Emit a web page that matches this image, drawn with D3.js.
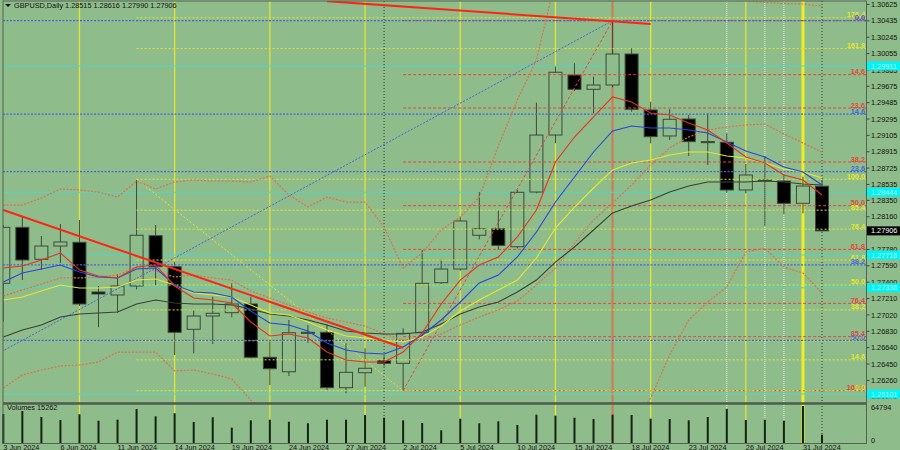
<!DOCTYPE html>
<html><head><meta charset="utf-8">
<script src="https://cdn.jsdelivr.net/npm/d3@7"></script>
<style>body{margin:0;background:#8fbc8b}svg{display:block}text{font-family:"Liberation Sans",Arial,sans-serif}</style>
</head><body>
<svg id="c" width="900" height="450"></svg>
<script>
// ---------------- DATA ----------------
const dateLabels = ["3 Jun 2024","6 Jun 2024","11 Jun 2024","14 Jun 2024","19 Jun 2024","24 Jun 2024","27 Jun 2024","2 Jul 2024","5 Jul 2024","10 Jul 2024","15 Jul 2024","18 Jul 2024","23 Jul 2024","26 Jul 2024","31 Jul 2024"];
const dateLabelIdx = [0,3,6,9,12,15,18,21,24,27,30,33,36,39,42];

const open  = [1.27387,1.28037,1.27666,1.27820,1.27863,1.27286,1.27251,1.27356,1.27940,1.27580,1.26853,1.27007,1.27046,1.27147,1.26528,1.26360,1.26818,1.26818,1.26175,1.26349,1.26488,1.26458,1.26813,1.27394,1.27553,1.27945,1.28021,1.27812,1.28447,1.29109,1.29806,1.29640,1.29690,1.30050,1.29400,1.29098,1.29295,1.29032,1.29025,1.28471,1.28579,1.28575,1.28316,1.28515];
const high  = [1.28064,1.28161,1.27936,1.28076,1.28122,1.27356,1.27495,1.28587,1.28064,1.27638,1.27077,1.27231,1.27387,1.27231,1.26729,1.26961,1.26903,1.26911,1.26690,1.26632,1.26540,1.26864,1.27774,1.27666,1.28161,1.28447,1.28238,1.28471,1.29485,1.29903,1.29942,1.29787,1.30437,1.30116,1.29496,1.29408,1.29342,1.29361,1.29129,1.28773,1.28866,1.28657,1.28625,1.28616];
const low   = [1.26941,1.27425,1.27542,1.27619,1.27123,1.26876,1.27046,1.27317,1.27367,1.26554,1.26574,1.26682,1.26992,1.26516,1.26206,1.26310,1.26697,1.26148,1.26110,1.26186,1.26420,1.26140,1.26767,1.27380,1.27533,1.27898,1.27774,1.27794,1.28432,1.29013,1.29620,1.29361,1.29663,1.29380,1.29013,1.29051,1.28866,1.28761,1.28440,1.28432,1.28053,1.28192,1.28200,1.27990];
const close = [1.28037,1.27658,1.27820,1.27867,1.27147,1.27263,1.27356,1.27945,1.27580,1.26818,1.27007,1.27039,1.27147,1.26528,1.26395,1.26813,1.26813,1.26175,1.26353,1.26400,1.26458,1.26806,1.27387,1.27553,1.28111,1.28021,1.27828,1.28444,1.29109,1.29838,1.29640,1.29690,1.30050,1.29408,1.29090,1.29292,1.29032,1.29025,1.28471,1.28645,1.28587,1.28316,1.28517,1.27996];
const volume = [50970,56155,45788,40604,50453,39395,41123,59610,46997,52181,37148,45269,27300,40086,41123,37666,34902,41123,41123,49243,44578,40086,35421,22807,42851,34902,38358,31965,49762,48034,44578,42332,49762,49243,42851,42332,40086,45788,59610,40604,41123,39395,64794,15262];

const maRed    = [1.27565,1.27588,1.27658,1.27739,1.27542,1.27472,1.27449,1.27576,1.27600,1.27356,1.27216,1.27193,1.27158,1.26938,1.26775,1.26798,1.26752,1.26589,1.26496,1.26473,1.26473,1.26589,1.26810,1.27147,1.27425,1.27600,1.27693,1.27925,1.28238,1.28796,1.29086,1.29319,1.29551,1.29493,1.29365,1.29342,1.29249,1.29168,1.29017,1.28854,1.28784,1.28645,1.28587,1.28413];
const maBlue   = [1.27402,1.27507,1.27553,1.27600,1.27518,1.27460,1.27449,1.27553,1.27565,1.27367,1.27286,1.27274,1.27228,1.27065,1.26926,1.26903,1.26833,1.26694,1.26612,1.26578,1.26566,1.26647,1.26787,1.26961,1.27170,1.27391,1.27483,1.27693,1.27983,1.28331,1.28622,1.28912,1.29156,1.29214,1.29191,1.29191,1.29168,1.29133,1.29028,1.28924,1.28854,1.28738,1.28680,1.28529];
const maYellow = [1.27193,1.27228,1.27298,1.27367,1.27333,1.27333,1.27344,1.27425,1.27437,1.27367,1.27274,1.27251,1.27228,1.27135,1.27042,1.27019,1.26938,1.26845,1.26775,1.26752,1.26729,1.26705,1.26763,1.26891,1.27065,1.27193,1.27309,1.27425,1.27681,1.28029,1.28273,1.28494,1.28703,1.28784,1.28819,1.28877,1.28912,1.28912,1.28866,1.28842,1.28784,1.28715,1.28680,1.28610];
const maGray   = [1.26763,1.26845,1.26903,1.26996,1.27031,1.27042,1.27054,1.27147,1.27193,1.27158,1.27147,1.27147,1.27135,1.27089,1.27031,1.27007,1.26961,1.26903,1.26833,1.26810,1.26798,1.26798,1.26822,1.26914,1.27031,1.27112,1.27170,1.27286,1.27425,1.27634,1.27809,1.28006,1.28204,1.28285,1.28355,1.28447,1.28517,1.28564,1.28564,1.28564,1.28575,1.28564,1.28540,1.28529];
const bandUpper  = [1.28296,1.28296,1.28378,1.28482,1.28471,1.28447,1.28389,1.28575,1.28482,1.28564,1.28587,1.28575,1.28575,1.28564,1.28633,1.28413,1.28273,1.28389,1.28331,1.28331,1.28041,1.27565,1.27739,1.28006,1.28157,1.28389,1.28982,1.29516,1.29981,1.30910,1.31084,1.31142,1.31142,1.31084,1.31026,1.30933,1.30852,1.30770,1.30712,1.30666,1.30648,1.30637,1.30631,1.30608];
const bandMiddle = [1.27240,1.27309,1.27379,1.27449,1.27449,1.27460,1.27483,1.27576,1.27530,1.27460,1.27483,1.27449,1.27425,1.27298,1.27216,1.27135,1.27054,1.26984,1.26938,1.26891,1.26798,1.26729,1.26729,1.26798,1.26903,1.26996,1.27077,1.27182,1.27367,1.27565,1.27855,1.28122,1.28320,1.28529,1.28761,1.28958,1.29086,1.29168,1.29202,1.29226,1.29237,1.29121,1.29017,1.28912];
const bandLower  = [1.26171,1.26322,1.26380,1.26427,1.26438,1.26473,1.26589,1.26589,1.26589,1.26369,1.26380,1.26334,1.26276,1.26032,1.25799,1.25683,1.25625,1.25567,1.25509,1.25509,1.25509,1.25567,1.25567,1.25567,1.25509,1.25451,1.25393,1.25335,1.25335,1.25335,1.25393,1.25451,1.25567,1.25741,1.26055,1.26554,1.26961,1.27170,1.27344,1.27751,1.27797,1.27576,1.27507,1.27274];

const priceTickLabels = ["1.30625","1.30435","1.30245","1.30055","1.29865","1.29675","1.29485","1.29295","1.29105","1.28915","1.28725","1.28535","1.28350","1.28160","1.27780","1.27590","1.27400","1.27210","1.27020","1.26830","1.26640","1.26450","1.26260","1.26070"];

const fibYellowLevels = [0,14.6,23.6,38.2,50,61.8,76.4,85.4,100,161.8,176.4];
const fibRedLevels    = [0,14.6,23.6,38.2,50,61.8,76.4,85.4,100];
const fibBlueLevels   = [0,14.6,23.6,38.2,50];
// anchors: [barIndex, price]  (100% point, then 0% point)
const fibYellowAnchors = [[7,1.28595],[21,1.26140]];
const fibRedAnchors    = [[21,1.26140],[32,1.30437]];
const fibBlueAnchors   = [[-30,1.23012],[32,1.30437]];
const trendA = [[0,1.28238],[21,1.26639]];
const trendB = [[17,1.30664],[34,1.30398]];
const cyanLevels = [1.29911,1.28444,1.27716,1.27336,1.26101];
const yellowVBars = [4,9,14,19,24,29,34,39];
const yellowThickBars = [42];
const whiteVBars = [38,40,41];
const blackDotVBars = [20,43];
const orangeVBars = [32];
const header = "GBPUSD,Daily 1.28515 1.28616 1.27990 1.27906";
const lastPriceLabel = "1.27906";
const volMax = 64794;

// ---------------- DRAW ----------------
const BG = "#8fbc8b";
const FS = 7.3;
const svg = d3.select("#c");
const L = 3, R = 866.5, T = 1, B = 403, VT = 404, VB = 443.5;
const x = d3.scaleLinear().domain([0, 43]).range([3.3, 822]);
const y = d3.scaleLinear().domain([1.25997, 1.30654]).range([403, 2]);
const vy = d3.scaleLinear().domain([0, volMax]).range([VB, 406]);

svg.append("rect").attr("width",900).attr("height",450).attr("fill",BG);
const defs = svg.append("defs");
defs.append("clipPath").attr("id","cm").append("rect").attr("x",L).attr("y",T).attr("width",R-L).attr("height",B-T);
defs.append("clipPath").attr("id","ca").append("rect").attr("x",L).attr("y",T).attr("width",R-L).attr("height",VB-T);

const gAll = svg.append("g").attr("clip-path","url(#ca)");
const gM = svg.append("g").attr("clip-path","url(#cm)");

function vline(bars, color, w, dash){
  gAll.selectAll(null).data(bars).enter().append("line")
    .attr("x1",d=>x(d)).attr("x2",d=>x(d)).attr("y1",T).attr("y2",VB)
    .attr("stroke",color).attr("stroke-width",w).attr("stroke-dasharray",dash||null);
}
vline(yellowVBars,"#e4e434",1.3);
vline(yellowThickBars,"#eeee22",3);
vline(whiteVBars,"#e8f0e4",1,"1,1");
vline(blackDotVBars,"#303830",1,"1,2");
vline(orangeVBars,"#cf7a52",2);

gM.selectAll(null).data(cyanLevels).enter().append("line")
  .attr("x1",L).attr("x2",R).attr("y1",d=>y(d)).attr("y2",d=>y(d))
  .attr("stroke","#52d6c8").attr("stroke-width",1);

svg.append("g").selectAll(null).data(volume).enter().append("rect")
  .attr("x",(d,i)=>x(i)-1).attr("width",2).attr("y",d=>vy(d)).attr("height",d=>VB-vy(d))
  .attr("fill","#142414");

const CC = "#3c4a3c";
const gc = gM.append("g");
open.forEach((o,i)=>{
  const c = close[i], xi = x(i);
  const top = y(Math.max(o,c)), bot = y(Math.min(o,c));
  gc.append("line").attr("x1",xi).attr("x2",xi).attr("y1",y(high[i])).attr("y2",y(low[i]))
    .attr("stroke",CC).attr("stroke-width",1);
  gc.append("rect").attr("x",xi-6.5).attr("width",13).attr("y",top).attr("height",Math.max(1,bot-top))
    .attr("fill", c<o ? "#000" : BG).attr("stroke",CC).attr("stroke-width",1);
});

function fib(levels, anchors, color, dash, startBar, w){
  const p100 = anchors[0][1], p0 = anchors[1][1];
  const xs = startBar==null ? L : x(startBar);
  levels.forEach(l=>{
    const yy = y(p0 + (p100-p0)*l/100);
    gM.append("line").attr("x1",xs).attr("x2",R).attr("y1",yy).attr("y2",yy)
      .attr("stroke",color).attr("stroke-width",w||1).attr("stroke-dasharray",dash);
    svg.append("text").attr("x",865).attr("y",yy-0.5).attr("text-anchor","end")
      .attr("font-size",FS).attr("font-weight","bold").attr("fill",color).text(l.toFixed(1));
  });
  gM.append("line").attr("x1",x(anchors[0][0])).attr("y1",y(anchors[0][1]))
    .attr("x2",x(anchors[1][0])).attr("y2",y(anchors[1][1]))
    .attr("stroke",color).attr("stroke-width",1).attr("stroke-dasharray",dash);
}
fib(fibRedLevels, fibRedAnchors, "#e8453a", "3,2", fibRedAnchors[0][0]);
fib(fibYellowLevels, fibYellowAnchors, "#e6e62a", "2,2", fibYellowAnchors[0][0]);
fib(fibBlueLevels, fibBlueAnchors, "#4466dd", "2,1.5", null, 1.2);

const line = d3.line().x((d,i)=>x(i)).y(d=>y(d));
function series(data,color,w,dash){
  gM.append("path").datum(data).attr("d",line).attr("fill","none")
    .attr("stroke",color).attr("stroke-width",w).attr("stroke-dasharray",dash||null);
}
series(bandUpper,"#e0704c",1.2,"2,1.5");
series(bandMiddle,"#e0704c",1.2,"2,1.5");
series(bandLower,"#e0704c",1.2,"2,1.5");
series(maGray,"#364236",1.1);
series(maYellow,"#e8e830",1.1);
series(maBlue,"#2446e0",1.1);
series(maRed,"#e8321c",1.1);

[trendA,trendB].forEach(t=>{
  gM.append("line").attr("x1",x(t[0][0])).attr("y1",y(t[0][1])).attr("x2",x(t[1][0])).attr("y2",y(t[1][1]))
    .attr("stroke","#ff2414").attr("stroke-width",2);
});

svg.append("rect").attr("x",L).attr("y",T).attr("width",R-L).attr("height",B-T).attr("fill","none").attr("stroke","#566256").attr("stroke-width",1);
svg.append("line").attr("x1",L).attr("x2",R).attr("y1",403.5).attr("y2",403.5).attr("stroke","#485448").attr("stroke-width",2);
svg.append("rect").attr("x",L).attr("y",VT).attr("width",R-L).attr("height",VB-VT).attr("fill","none").attr("stroke","#566256").attr("stroke-width",1);

svg.append("g").selectAll(null).data(priceTickLabels).enter().append("text")
  .attr("x",871).attr("y",d=>y(+d)+2.6).attr("font-size",FS).attr("fill","#111").text(d=>d);
svg.append("g").selectAll(null).data(priceTickLabels).enter().append("line")
  .attr("x1",R).attr("x2",R+3).attr("y1",d=>y(+d)).attr("y2",d=>y(+d)).attr("stroke","#404a40");

cyanLevels.forEach(p=>{
  svg.append("rect").attr("x",867).attr("y",y(p)-4.5).attr("width",33).attr("height",9).attr("fill","#00f4f4");
  svg.append("text").attr("x",871).attr("y",y(p)+2.6).attr("font-size",FS).attr("fill","#b8fafa").text(p.toFixed(5));
});
const lp = close[close.length-1];
svg.append("rect").attr("x",867).attr("y",y(lp)-4.5).attr("width",33).attr("height",9).attr("fill","#000");
svg.append("text").attr("x",871).attr("y",y(lp)+2.6).attr("font-size",FS).attr("fill","#fff").text(lastPriceLabel);

svg.append("text").attr("x",871).attr("y",409.5).attr("font-size",FS).attr("fill","#111").text(String(volMax));
svg.append("text").attr("x",871).attr("y",443).attr("font-size",FS).attr("fill","#111").text("0");
svg.append("text").attr("x",7).attr("y",410).attr("font-size",FS).attr("fill","#111").text("Volumes " + volume[volume.length-1]);

svg.append("g").selectAll(null).data(dateLabelIdx).enter().append("text")
  .attr("x",d=>x(d)).attr("y",449.5).attr("font-size",FS).attr("fill","#111").text((d,i)=>dateLabels[i]);

svg.append("path").attr("d","M5,4 L11,4 L8,7 Z").attr("fill","#111");
svg.append("text").attr("x",14).attr("y",8).attr("font-size",FS).attr("fill","#111").text(header);
</script>
</body></html>
